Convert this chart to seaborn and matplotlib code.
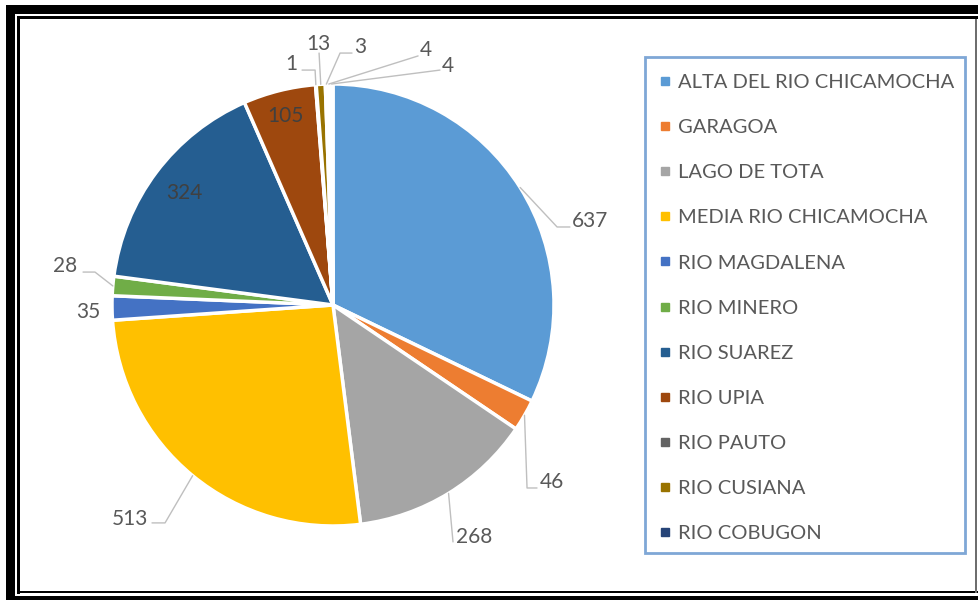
import numpy as np
import seaborn as sns
import matplotlib.pyplot as plt
from matplotlib.patches import Rectangle
from matplotlib.lines import Line2D

# datos del grafico
cuencas = ['ALTA DEL RIO CHICAMOCHA', 'GARAGOA', 'LAGO DE TOTA', 'MEDIA RIO CHICAMOCHA',
           'RIO MAGDALENA', 'RIO MINERO', 'RIO SUAREZ', 'RIO UPIA', 'RIO PAUTO',
           'RIO CUSIANA', 'RIO COBUGON', 'OTRA 1', 'OTRA 2']
valores = [637, 46, 268, 513, 35, 28, 324, 105, 1, 13, 3, 4, 4]
n_leyenda = 11  # la leyenda solo muestra las primeras 11

colores = ['#5B9BD5', '#ED7D31', '#A5A5A5', '#FFC000', '#4472C4', '#70AD47',
           '#255E91', '#9E480E', '#636363', '#997300', '#264478', '#43682B', '#7CAFDD']

W, H = 979, 600

sns.set_theme(style='white')
plt.rcParams['font.family'] = ['Lato', 'DejaVu Sans']

fig = plt.figure(figsize=(W / 100, H / 100), dpi=100)
fig.patch.set_facecolor('white')


def caja(x, y, w, h, **kw):
    """rectangulo en pixeles (origen arriba a la izquierda)"""
    r = Rectangle((x / W, 1 - (y + h) / H), w / W, h / H, transform=fig.transFigure, **kw)
    fig.add_artist(r)


# marco negro de la captura
caja(6, 5, W - 6, 9, color='black', lw=0)
caja(6, 5, 9, H - 5, color='black', lw=0)
caja(6, 596, W - 6, 4, color='black', lw=0)
caja(17, 16, W - 17, 3, color='black', lw=0)
caja(17, 16, 3, 578, color='black', lw=0)
caja(17, 591, W - 17, 2, color='black', lw=0)
caja(975, 19, 2, 574, color='#6E6E6E', lw=0)

# pastel: centro (333, 305) px, radio 221 px
R = 221
cx, cy = 333, 305
ax = fig.add_axes([(cx - 1.5 * R) / W, (H - cy - 1.5 * R) / H, 3 * R / W, 3 * R / H])
wedges, _ = ax.pie(valores, colors=colores, startangle=90, counterclock=False,
                   radius=1, wedgeprops=dict(edgecolor='white', linewidth=2.5))
ax.set_xlim(-1.5, 1.5)
ax.set_ylim(-1.5, 1.5)
ax.set_aspect('equal')
ax.axis('off')

gris_txt = '#595959'
gris_lin = '#BFBFBF'
fs = 15

# etiquetas externas: (x, y, ha, codo)
etiquetas_ext = {
    0: (1.081, 0.353, 'left', [(1.014, 0.353), (1.072, 0.353)]),
    1: (0.937, -0.828, 'left', [(0.878, -0.828), (0.923, -0.828)]),
    2: (0.557, -1.077, 'left', [(0.543, -1.072)]),
    3: (-0.837, -0.995, 'right', [(-0.760, -0.986), (-0.819, -0.986)]),
    4: (-1.054, -0.059, 'right', []),
    5: (-1.158, 0.149, 'right', [(-1.077, 0.149), (-1.131, 0.149)]),
    8: (-0.163, 1.063, 'right', [(-0.081, 1.063), (-0.140, 1.063)]),
    9: (-0.068, 1.154, 'center', [(-0.063, 1.140)]),
    10: (0.095, 1.140, 'left', [(0.032, 1.140), (0.086, 1.140)]),
    11: (0.394, 1.127, 'left', [(0.385, 1.127)]),
    12: (0.493, 1.054, 'left', [(0.484, 1.063)]),
}
# etiquetas internas: distancia radial
etiquetas_int = {6: 0.84, 7: 0.88}

for i, w in enumerate(wedges):
    mid = np.deg2rad((w.theta1 + w.theta2) / 2)
    if i in etiquetas_ext:
        x, y, ha, codo = etiquetas_ext[i]
        pts = [(np.cos(mid) * 1.0, np.sin(mid) * 1.0)] + codo
        if codo:
            ax.plot([p[0] for p in pts], [p[1] for p in pts], color=gris_lin, lw=1,
                    clip_on=False, zorder=3)
        ax.text(x, y, str(valores[i]), ha=ha, va='baseline', fontsize=fs, color=gris_txt,
                clip_on=False)
    elif i in etiquetas_int:
        d = etiquetas_int[i]
        ax.text(np.cos(mid) * d, np.sin(mid) * d, str(valores[i]), ha='center', va='center',
                fontsize=fs, color='#404040')

# leyenda con caja propia
caja(645, 57, 320, 496, facecolor='none', edgecolor='#7FA7D6', lw=2)
handles = [Line2D([], [], marker='s', linestyle='none', markersize=6,
                  markerfacecolor=colores[i], markeredgecolor=colores[i])
           for i in range(n_leyenda)]
fig.legend(handles, cuencas[:n_leyenda], loc='upper left',
           bbox_to_anchor=(651 / W, 1 - 66 / H), frameon=False, fontsize=14.5,
           labelspacing=1.39, handlelength=0.6, handletextpad=0.35, labelcolor=gris_txt,
           borderaxespad=0)

fig.savefig('out.png', dpi=100, facecolor='white')
